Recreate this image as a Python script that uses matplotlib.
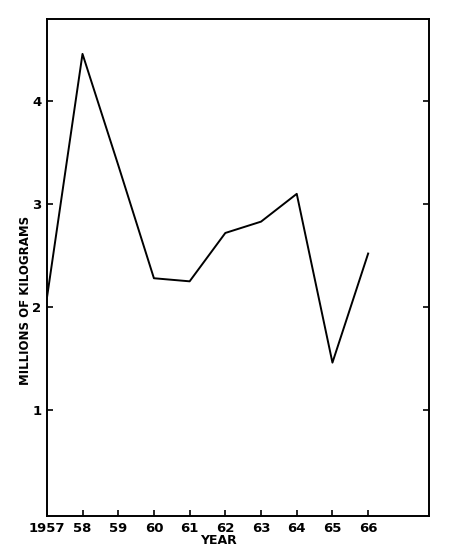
import matplotlib
matplotlib.use("Agg")
import matplotlib.pyplot as plt

years = [1957, 1958, 1959, 1960, 1961, 1962, 1963, 1964, 1965, 1966]
values = [2.08, 4.46, 3.38, 2.28, 2.25, 2.72, 2.83, 3.10, 1.46, 2.52]
xtick_labels = ["1957", "58", "59", "60", "61", "62", "63", "64", "65", "66"]
yticks = [1, 2, 3, 4]

fig = plt.figure(figsize=(4.5, 5.56), dpi=100)
ax = fig.add_axes([0.104, 0.072, 0.849, 0.894])
ax.plot(years, values, color="black", linewidth=1.4)
ax.set_xlim(1957, 1967.7)
ax.set_ylim(-0.03, 4.8)
ax.set_xticks(years)
ax.set_xticklabels(xtick_labels, fontweight="bold", fontsize=9.5)
ax.set_yticks(yticks)
ax.set_yticklabels([str(v) for v in yticks], fontweight="bold", fontsize=9.5)
ax.tick_params(direction="in", length=4, width=1.2, right=True, pad=4)
for s in ax.spines.values():
    s.set_linewidth(1.4)
fig.text(0.485, 0.028, "YEAR", ha="center", va="center",
         fontweight="bold", fontsize=9)
fig.text(0.056, 0.46, "MILLIONS OF KILOGRAMS", rotation=90, ha="center", va="center",
         fontweight="bold", fontsize=8.5)
fig.savefig("out.png", dpi=100)
